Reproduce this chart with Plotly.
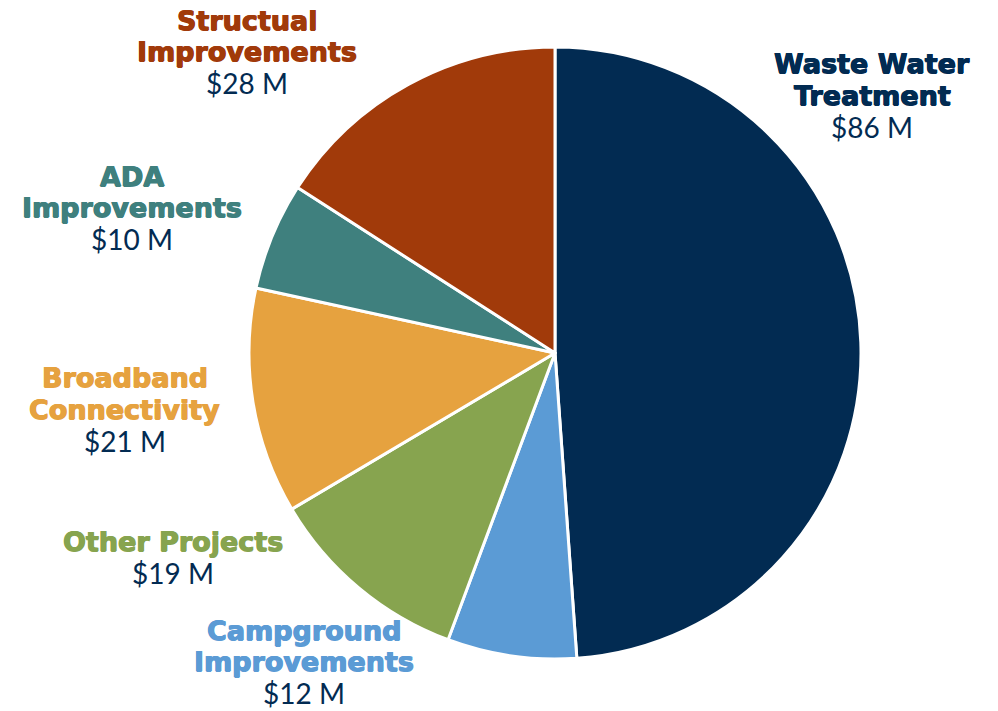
import plotly.graph_objects as go

categories = ["Waste Water<br>Treatment", "Campground<br>Improvements", "Other Projects",
              "Broadband<br>Connectivity", "ADA<br>Improvements", "Structual<br>Improvements"]
values = [86, 12, 19, 21, 10, 28]
value_labels = ["$86 M", "$12 M", "$19 M", "$21 M", "$10 M", "$28 M"]
colors = ["#022B52", "#5B9BD5", "#87A44F", "#E6A23F", "#3F807E", "#A13A0A"]

# label block centre x (pixels) for each slice, and y of first line
label_x = [872, 304, 173, 125, 132, 247]
label_y0 = [64, 630, 541, 378, 176, 20]

W, H = 998, 711
NAVY = "#022B52"
LINE_H = 31.5

fig = go.Figure(go.Pie(
    labels=[c.replace("<br>", " ") for c in categories], values=values, sort=False,
    direction="clockwise", rotation=0,
    marker=dict(colors=colors, line=dict(color="white", width=3)),
    textinfo="none", hoverinfo="label+value", showlegend=False,
    domain=dict(x=[249 / W, 861 / W], y=[1 - 659 / H, 1 - 47 / H]),
))

for cat, val, col, lx, ly in zip(categories, value_labels, colors, label_x, label_y0):
    lines = cat.split("<br>")
    for i, ln in enumerate(lines):
        fig.add_annotation(
            x=lx / W, y=1 - (ly + i * LINE_H) / H, xref="paper", yref="paper",
            text=ln, showarrow=False, xanchor="center", yanchor="middle",
            font=dict(family="DejaVu Sans", size=27, color=col, weight="bold",
                      shadow=f"0.6px 0 0 {col}, -0.6px 0 0 {col}, 0 0.5px 0 {col}"),
        )
    fig.add_annotation(
        x=lx / W, y=1 - (ly + len(lines) * LINE_H) / H, xref="paper", yref="paper",
        text=val, showarrow=False, xanchor="center", yanchor="middle",
        font=dict(family="Lato", size=28, color=NAVY),
    )

fig.update_layout(width=W, height=H, margin=dict(l=0, r=0, t=0, b=0),
                  paper_bgcolor="white", plot_bgcolor="white")
fig.write_html("out.html", config={"displayModeBar": False},
               post_script="document.body.style.margin='0';")
